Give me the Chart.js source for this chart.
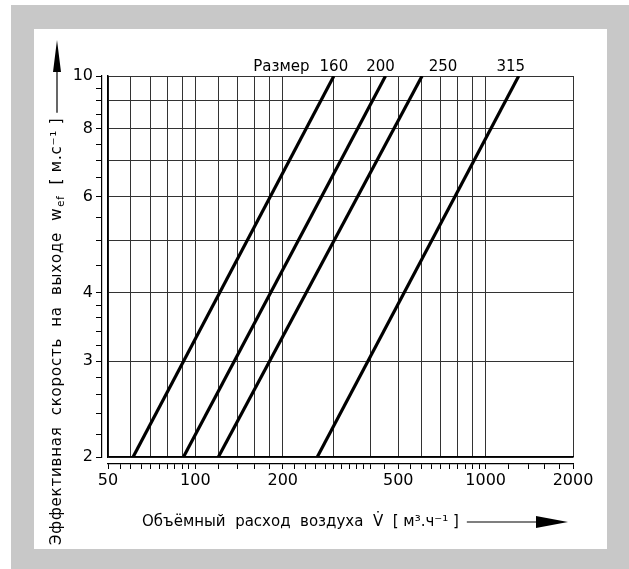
<!DOCTYPE html>
<html>
<head>
<meta charset="utf-8">
<script src="https://cdn.jsdelivr.net/npm/chart.js@4.4.1/dist/chart.umd.min.js"></script>
<style>
html,body{margin:0;padding:0;background:#fff;}
#frame{position:absolute;left:11px;top:5px;width:618px;height:564px;background:#c8c8c8;}
#panel{position:absolute;left:34px;top:29px;width:573px;height:520px;background:#fff;}
#wrap{position:absolute;left:0;top:0;width:629px;height:569px;}
</style>
</head>
<body>
<div id="frame"></div>
<div id="panel"></div>
<div id="wrap"><canvas id="c" width="629" height="569"></canvas></div>
<script>
// ---- data ----
const sizeWord = 'Размер';
const sizeLabels = ['160', '200', '250', '315'];
const velocityEnds = [2, 10];               // m/s at the two ends of each line
const flowAtLow = [61, 91, 120, 263];        // m3/h at 2 m/s
const flowAtHigh = [300, 452, 604, 1300];    // m3/h at 10 m/s

const xGridValues = [50, 60, 70, 80, 90, 100, 120, 140, 160, 180, 200, 300, 400, 500, 600, 700, 800, 900, 1000, 2000];
const xTickValues = [50, 55, 60, 65, 70, 75, 80, 85, 90, 95, 100, 120, 140, 160, 180, 200, 220, 240, 260, 280, 300, 320, 340, 360, 380, 400, 450, 500, 550, 600, 650, 700, 750, 800, 850, 900, 950, 1000, 1200, 1400, 1600, 1800, 2000];
const xLabelValues = [50, 100, 200, 500, 1000, 2000];

const yGridValues = [2, 3, 4, 5, 6, 7, 8, 9, 10];
const yTickValues = [2, 2.2, 2.4, 2.6, 2.8, 3, 3.2, 3.4, 3.6, 3.8, 4, 4.5, 5, 5.5, 6, 6.5, 7, 7.5, 8, 8.5, 9, 9.5, 10];
const yLabelValues = [2, 3, 4, 6, 8, 10];

const yTitleMain = 'Эффективная  скорость  на  выходе  w';
const yTitleSub = 'ef';
const yTitleUnit = '[ м.с⁻¹ ]';
const xTitle = 'Объёмный  расход  воздуха  V̇  [ м³.ч⁻¹ ]';

// ---- styling ----
const FONT = '"DejaVu Sans", sans-serif';
const labelShift = [0, -5, 21, -8];

const datasets = sizeLabels.map((s, i) => ({
  label: s,
  data: [{x: flowAtLow[i], y: velocityEnds[0]}, {x: flowAtHigh[i], y: velocityEnds[1]}],
  borderColor: '#000',
  borderWidth: 3.2,
  pointRadius: 0,
  fill: false,
  tension: 0,
  xAxisID: 'x',
  yAxisID: 'y'
}));

const setTicks = vals => scale => { scale.ticks = vals.map(v => ({value: v})); };
const near = (arr, v) => arr.some(a => Math.abs(a - v) < 1e-6);

const annot = {
  id: 'annot',
  afterDraw(chart) {
    const ctx = chart.ctx;
    const area = chart.chartArea;
    ctx.save();
    ctx.fillStyle = '#000';
    ctx.strokeStyle = '#000';

    // size labels at the upper end of each line
    ctx.font = '15px ' + FONT;
    ctx.textAlign = 'center';
    ctx.textBaseline = 'alphabetic';
    let firstLeft = 0;
    chart.data.datasets.forEach((ds, i) => {
      const meta = chart.getDatasetMeta(i);
      const p = meta.data[meta.data.length - 1];
      const x = p.x + labelShift[i];
      ctx.fillText(ds.label, x, area.top - 5);
      if (i === 0) firstLeft = x - ctx.measureText(ds.label).width / 2;
    });
    ctx.textAlign = 'right';
    ctx.fillText(sizeWord, firstLeft - 10, area.top - 5);

    // rotated y title with arrow
    ctx.save();
    ctx.translate(57, 545);
    ctx.rotate(-Math.PI / 2);
    ctx.textAlign = 'left';
    ctx.textBaseline = 'middle';
    ctx.letterSpacing = '0.8px';
    ctx.font = '15px ' + FONT;
    let pos = 0;
    ctx.fillText(yTitleMain, pos, 0);
    pos += ctx.measureText(yTitleMain).width;
    ctx.font = '10px ' + FONT;
    ctx.fillText(yTitleSub, pos + 1, 4);
    pos += ctx.measureText(yTitleSub).width + 12;
    ctx.font = '15px ' + FONT;
    ctx.fillText(yTitleUnit, pos, 0);
    pos += ctx.measureText(yTitleUnit).width;
    ctx.restore();
    const yTextEnd = 545 - pos;
    ctx.lineWidth = 1.2;
    ctx.beginPath();
    ctx.moveTo(57, yTextEnd - 5);
    ctx.lineTo(57, 70);
    ctx.stroke();
    ctx.beginPath();
    ctx.moveTo(57, 40);
    ctx.lineTo(53, 72);
    ctx.lineTo(61, 72);
    ctx.closePath();
    ctx.fill();

    // x title with arrow
    ctx.font = '15px ' + FONT;
    ctx.textAlign = 'left';
    ctx.textBaseline = 'middle';
    ctx.fillText(xTitle, 142, 522);
    const xTextEnd = 142 + ctx.measureText(xTitle).width;
    ctx.beginPath();
    ctx.moveTo(xTextEnd + 8, 522);
    ctx.lineTo(540, 522);
    ctx.stroke();
    ctx.beginPath();
    ctx.moveTo(568, 522);
    ctx.lineTo(536, 516);
    ctx.lineTo(536, 528);
    ctx.closePath();
    ctx.fill();
    ctx.restore();
  }
};

new Chart(document.getElementById('c'), {
  type: 'line',
  data: {datasets},
  options: {
    responsive: false,
    animation: false,
    events: [],
    layout: {padding: {left: 0, right: 56, top: 76, bottom: 0}},
    plugins: {legend: {display: false}, tooltip: {enabled: false}, title: {display: false}},
    scales: {
      x: {
        type: 'logarithmic', position: 'bottom', min: 50, max: 2000, weight: 0,
        afterBuildTicks: setTicks(xGridValues),
        afterFit: s => { s.height = 7; },
        ticks: {display: false},
        grid: {color: '#333', lineWidth: 1, drawTicks: false},
        border: {display: true, color: '#000', width: 1.5}
      },
      xTicks: {
        type: 'logarithmic', position: 'bottom', min: 50, max: 2000, weight: 1,
        afterBuildTicks: setTicks(xTickValues),
        afterFit: s => { s.height = 105; },
        ticks: {
          autoSkip: false, maxRotation: 0, minRotation: 0, padding: 2, color: '#000',
          font: {family: FONT, size: 16},
          callback: v => near(xLabelValues, v) ? String(v) : ''
        },
        grid: {drawOnChartArea: false, drawTicks: true, tickLength: 5, tickColor: '#000', tickWidth: 1},
        border: {display: true, color: '#000', width: 1.2}
      },
      y: {
        type: 'logarithmic', position: 'left', min: 2, max: 10, weight: 0,
        afterBuildTicks: setTicks(yGridValues),
        afterFit: s => { s.width = 6; },
        ticks: {display: false},
        grid: {color: '#333', lineWidth: 1, drawTicks: false},
        border: {display: true, color: '#000', width: 1.5}
      },
      yTicks: {
        type: 'logarithmic', position: 'left', min: 2, max: 10, weight: 1,
        afterBuildTicks: setTicks(yTickValues),
        afterFit: s => { s.width = 102; },
        ticks: {
          autoSkip: false, padding: 3, color: '#000',
          font: {family: FONT, size: 16},
          callback: v => near(yLabelValues, v) ? String(v) : ''
        },
        grid: {drawOnChartArea: false, drawTicks: true, tickLength: 6, tickColor: '#000', tickWidth: 1},
        border: {display: true, color: '#000', width: 1.2}
      }
    }
  },
  plugins: [annot]
});
</script>
</body>
</html>
